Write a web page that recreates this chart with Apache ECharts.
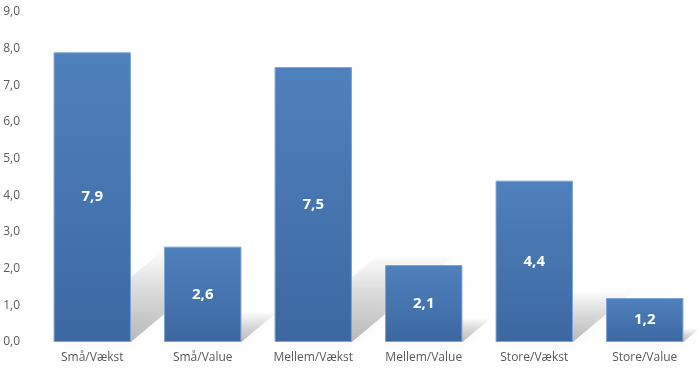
<!DOCTYPE html>
<html>
<head>
<meta charset="utf-8">
<script src="https://cdn.jsdelivr.net/npm/echarts@6/dist/echarts.min.js"></script>
<style>
  html, body { margin: 0; padding: 0; background: #fff; }
  #main { width: 700px; height: 378px; }
</style>
</head>
<body>
<div id="main"></div>
<script>
var categories = ['Små/Vækst', 'Små/Value', 'Mellem/Vækst', 'Mellem/Value', 'Store/Vækst', 'Store/Value'];
var values = [7.9, 2.6, 7.5, 2.1, 4.4, 1.2];

var chart = echarts.init(document.getElementById('main'));

function fmt(v) {
  return Number(v).toFixed(1).replace('.', ',');
}

var option = {
  animation: false,
  grid: { left: 37, right: 0, top: 12, bottom: 36 },
  xAxis: {
    type: 'category',
    data: categories,
    axisLine: { show: false },
    axisTick: { show: false },
    axisLabel: { color: '#595959', fontSize: 12, fontFamily: 'Open Sans', margin: 10 }
  },
  yAxis: {
    type: 'value',
    min: 0, max: 9, interval: 1,
    splitLine: { show: false },
    axisLine: { show: false },
    axisTick: { show: false },
    axisLabel: {
      color: '#595959', fontSize: 12, fontFamily: 'Open Sans', margin: 17,
      formatter: fmt
    }
  },
  series: [
    {
      // skygge bag søjlerne
      type: 'custom',
      z: 1,
      silent: true,
      renderItem: function (params, api) {
        var top = api.coord([api.value(0), api.value(1)]);
        var base = api.coord([api.value(0), 0]);
        var w = api.size([1, 0])[0] * 0.7;
        var h = base[1] - top[1];
        var xL = base[0] - w / 2, xR = base[0] + w / 2;
        var dx = h * 0.37, dy = h * 0.31;
        return {
          type: 'polygon',
          shape: { points: [[xL, base[1]], [xR, base[1]], [xR + dx, base[1] - dy], [xL + dx, base[1] - dy]] },
          style: {
            fill: new echarts.graphic.LinearGradient(0, 1, 0, 0, [
              { offset: 0, color: 'rgba(0,0,0,0.26)' },
              { offset: 0.6, color: 'rgba(0,0,0,0.12)' },
              { offset: 1, color: 'rgba(0,0,0,0.01)' }
            ]),
            shadowBlur: 12,
            shadowColor: 'rgba(0,0,0,0.12)'
          }
        };
      },
      data: values.map(function (v, i) { return [i, v]; })
    },
    {
      type: 'bar',
      z: 2,
      data: values,
      barWidth: '70%',
      itemStyle: {
        color: new echarts.graphic.LinearGradient(0, 0, 0, 1, [
          { offset: 0, color: '#4f81bd' },
          { offset: 1, color: '#3c68a1' }
        ]),
        borderColor: '#7aa3d6',
        borderWidth: 1
      },
      label: {
        show: true,
        position: 'inside',
        color: '#fff',
        fontSize: 15,
        fontWeight: 'bold',
        fontFamily: 'Open Sans',
        formatter: function (p) { return fmt(p.value); }
      }
    }
  ]
};
chart.setOption(option);
</script>
</body>
</html>
